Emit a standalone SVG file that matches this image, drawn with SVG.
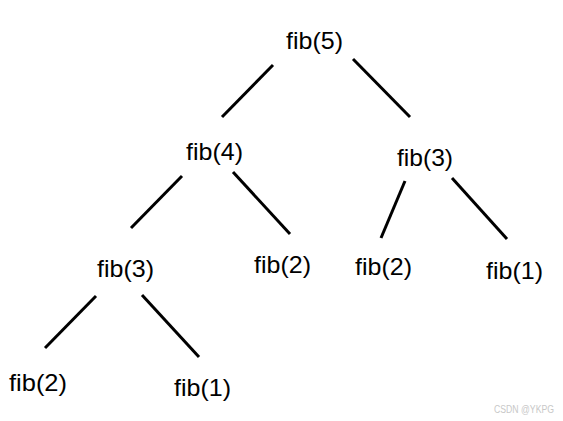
<svg xmlns="http://www.w3.org/2000/svg" width="563" height="421" viewBox="0 0 563 421">
<style>
.t{font-family:"Liberation Sans",Arial,sans-serif;font-size:24px;fill:#000}
.e line{stroke:#000;stroke-width:3;stroke-linecap:butt}
.wm{font-family:"Liberation Sans",Arial,sans-serif;font-size:10px;fill:#c8c8c8}
</style>
<rect width="563" height="421" fill="#fff"/>
<g class="e" id="connectors">
<line x1="273" y1="65" x2="222" y2="117"/>
<line x1="353" y1="59" x2="410" y2="117"/>
<line x1="182" y1="176" x2="131" y2="228"/>
<line x1="233" y1="172" x2="290" y2="234"/>
<line x1="405" y1="181" x2="381" y2="238"/>
<line x1="452" y1="178" x2="507" y2="239"/>
<line x1="96" y1="296" x2="45" y2="348"/>
<line x1="142" y1="295" x2="199" y2="357"/>
</g>
<g id="n5"><text class="t" x="286" y="49" textLength="57" lengthAdjust="spacingAndGlyphs">fib(5)</text></g>
<g id="n4"><text class="t" x="186" y="160" textLength="57" lengthAdjust="spacingAndGlyphs">fib(4)</text></g>
<g id="n3r"><text class="t" x="397" y="166" textLength="56" lengthAdjust="spacingAndGlyphs">fib(3)</text></g>
<g id="n3l"><text class="t" x="97" y="277" textLength="57" lengthAdjust="spacingAndGlyphs">fib(3)</text></g>
<g id="n2m"><text class="t" x="254" y="273" textLength="57" lengthAdjust="spacingAndGlyphs">fib(2)</text></g>
<g id="n2r"><text class="t" x="355" y="275" textLength="57" lengthAdjust="spacingAndGlyphs">fib(2)</text></g>
<g id="n1r"><text class="t" x="486" y="279" textLength="57" lengthAdjust="spacingAndGlyphs">fib(1)</text></g>
<g id="n2l"><text class="t" x="9" y="391" textLength="58" lengthAdjust="spacingAndGlyphs">fib(2)</text></g>
<g id="n1l"><text class="t" x="174" y="396" textLength="57" lengthAdjust="spacingAndGlyphs">fib(1)</text></g>
<text class="wm" x="494" y="413" textLength="60" lengthAdjust="spacingAndGlyphs">CSDN @YKPG</text>
</svg>
